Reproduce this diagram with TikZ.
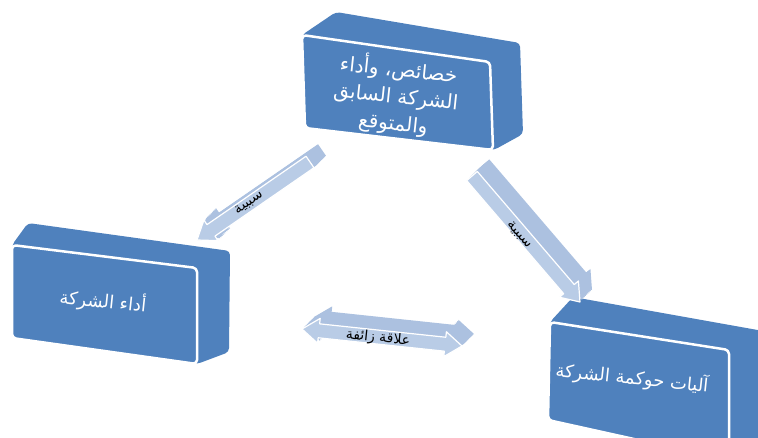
\documentclass[tikz,border=0pt]{standalone}
\usepackage{fontspec}
\newfontfamily\arabicfont[Script=Arabic]{DejaVu Sans}
\TeXXeTstate=1
\usetikzlibrary{calc}
\definecolor{boxblue}{RGB}{79,129,189}
\definecolor{arfront}{RGB}{185,204,230}
\definecolor{arside}{RGB}{172,193,224}
\tikzset{
  boxbody/.style={fill=boxblue, rounded corners=4pt},
  boxface/.style={fill=boxblue, draw=white, line width=2.5pt, rounded corners=4pt, line join=round},
  boxtext/.style={text=white, font=\arabicfont\fontsize{18}{25}\selectfont, align=center, rotate=-6, inner sep=0pt},
  bigboxtext/.style={boxtext, font=\arabicfont\fontsize{20}{27}\selectfont},
  artext/.style={text=black, font=\arabicfont\fontsize{14}{16}\selectfont, inner sep=0pt},
}
\def\arh{7}\def\arH{12.5}\def\arL{17}
\newcommand{\blockarrow}[3]{%
  \pgfpointdiff{\pgfpointanchor{#1}{center}}{\pgfpointanchor{#2}{center}}%
  \pgfgetlastxy{\ardx}{\ardy}%
  \pgfmathsetmacro\arlen{veclen(\ardx,\ardy)}%
  \pgfmathsetmacro\arang{atan2(\ardy,\ardx)}%
  \pgfmathsetmacro\arB{\arlen-\arL}%
  \ifnum#3=2
    \def\arshape{(0,0) -- (\arL,-\arH) -- (\arL,-\arh) -- (\arB,-\arh) -- (\arB,-\arH) -- (\arlen,0) -- (\arB,\arH) -- (\arB,\arh) -- (\arL,\arh) -- (\arL,\arH) -- cycle}%
  \else
    \def\arshape{(0,-\arh) -- (\arB,-\arh) -- (\arB,-\arH) -- (\arlen,0) -- (\arB,\arH) -- (\arB,\arh) -- (0,\arh) -- cycle}%
  \fi
  \begin{scope}[shift={(#1)}]
    \foreach \t in {1,0.9,...,0.1}{%
      \begin{scope}[shift={(12*\t,-12*\t)}, rotate=\arang]
        \fill[arside] \arshape;
      \end{scope}}
    \begin{scope}[rotate=\arang]
      \filldraw[fill=arfront, draw=white, line width=1.2pt, line join=round] \arshape;
    \end{scope}
  \end{scope}
}
\begin{document}
\begin{tikzpicture}[x=1pt,y=-1pt]
\useasboundingbox (0,0) rectangle (758,437);
\clip (0,0) rectangle (758,437);
\fill[white] (0,0) rectangle (758,437);
% top box
\fill[boxbody] (302,35) -- (336,12) -- (520,43) -- (523,134) -- (494,150) -- (305,128) -- cycle;
\filldraw[boxface] (302,35) -- (490,62) -- (493,150) -- (305,128) -- cycle;
\node[bigboxtext] (top) at (396,96) {\beginR خصائص، وأداء\endR\\\beginR الشركة السابق\endR\\\beginR والمتوقع\endR};
% left box
\fill[boxbody] (12,245) -- (28,223) -- (230,251) -- (229,352) -- (197,364) -- (12,338) -- cycle;
\filldraw[boxface] (12,245) -- (197,268) -- (197,364) -- (12,338) -- cycle;
\node[boxtext] (left) at (103,301) {\beginR أداء الشركة\endR};
% right box
\fill[boxbody] (550,322) -- (573,297) -- (780,334) -- (780,450) -- (727,450) -- (548,420) -- cycle;
\filldraw[boxface] (550,322) -- (729,350) -- (729,460) -- (548,420) -- cycle;
\node[boxtext] (right) at (632,378) {\beginR آليات حوكمة الشركة\endR};
% arrows
\coordinate (la1) at (310,162);
\coordinate (la2) at (197,240);
\coordinate (ra1) at (472,176);
\coordinate (ra2) at (580,302);
\coordinate (ba1) at (302,329);
\coordinate (ba2) at (462,346);
\blockarrow{la1}{la2}{1}
\blockarrow{ra1}{ra2}{1}
\blockarrow{ba1}{ba2}{2}
\node[artext, rotate=35] (llab) at (249,203) {\beginR سببية\endR};
\node[artext, rotate=-50] (rlab) at (519,235) {\beginR سببية\endR};
\node[artext, rotate=-6] (blab) at (378,338) {\beginR علاقة زائفة\endR};
\end{tikzpicture}
\end{document}
